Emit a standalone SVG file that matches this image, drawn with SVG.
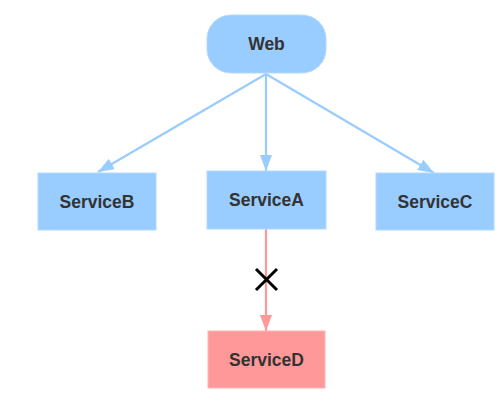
<svg xmlns="http://www.w3.org/2000/svg" width="500" height="405" viewBox="0 0 500 405">
<style>
.b{fill:#99ccff;stroke:#b3d9ff;stroke-width:1}
.r{fill:#ff9999;stroke:#ffb3b3;stroke-width:1}
.t{font-family:"Liberation Sans",Arial,sans-serif;font-size:17.5px;font-weight:bold;fill:#333;text-anchor:middle;dominant-baseline:central}
.cb{stroke:#99ccff;stroke-width:2.2;fill:none}
.cr{stroke:#ff9999;stroke-width:2.2;fill:none}
</style>
<defs>
<marker id="ab" viewBox="0 0 16 12" refX="16" refY="6" markerWidth="16" markerHeight="12" orient="auto" markerUnits="userSpaceOnUse"><path d="M0,0L16,6L0,12z" fill="#99ccff"/></marker>
<marker id="ar" viewBox="0 0 16 12" refX="16" refY="6" markerWidth="16" markerHeight="12" orient="auto" markerUnits="userSpaceOnUse"><path d="M0,0L16,6L0,12z" fill="#ff9999"/></marker>
</defs>
<rect width="500" height="405" fill="#fff"/>
<g id="connectors">
<path class="cb" d="M266,74L98,172" marker-end="url(#ab)"/>
<path class="cb" d="M266,74L266,171" marker-end="url(#ab)"/>
<path class="cb" d="M266,74L434,173" marker-end="url(#ab)"/>
<path class="cr" d="M266,229L266,331" marker-end="url(#ar)"/>
<path d="M256,269L277,290M277,269L256,290" stroke="#000" stroke-width="3" fill="none"/>
</g>
<g id="web"><rect class="b" x="207" y="15" width="119" height="58" rx="24"/><text class="t" x="266.5" y="44">Web</text></g>
<g id="serviceB"><rect class="b" x="38" y="173" width="118" height="57"/><text class="t" x="97" y="202">ServiceB</text></g>
<g id="serviceA"><rect class="b" x="207" y="171" width="119" height="58"/><text class="t" x="266.5" y="200">ServiceA</text></g>
<g id="serviceC"><rect class="b" x="376" y="173" width="118" height="57"/><text class="t" x="435" y="202">ServiceC</text></g>
<g id="serviceD"><rect class="r" x="208" y="331" width="117" height="57"/><text class="t" x="266.5" y="359.5">ServiceD</text></g>
</svg>
